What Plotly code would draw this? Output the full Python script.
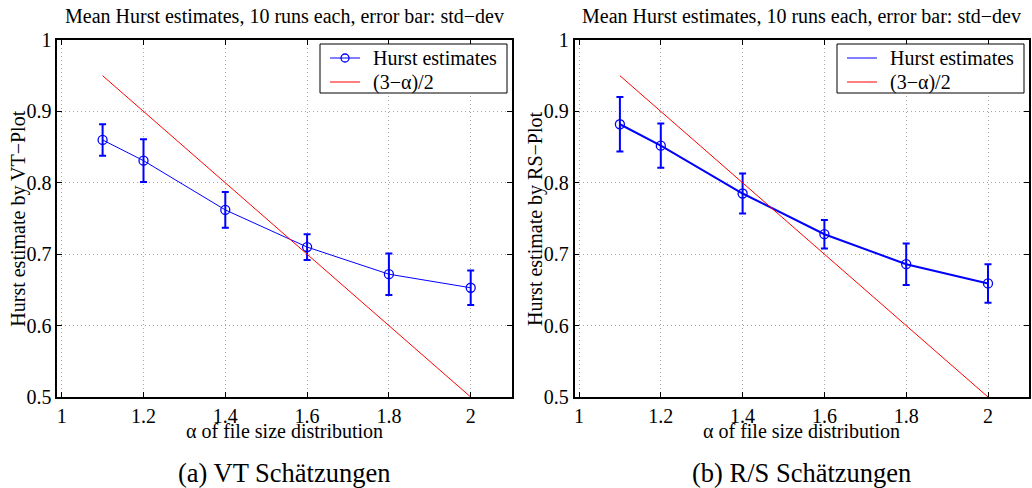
import plotly.graph_objects as go

# alpha values of the file size distribution
alpha = [1.1, 1.2, 1.4, 1.6, 1.8, 2.0]

# VT-plot estimates (mean of 10 runs) and standard deviation
vt_mean = [0.860, 0.831, 0.762, 0.710, 0.672, 0.653]
vt_std = [0.022, 0.030, 0.025, 0.018, 0.029, 0.024]

# R/S-plot estimates (mean of 10 runs) and standard deviation
rs_mean = [0.882, 0.852, 0.785, 0.728, 0.686, 0.659]
rs_std = [0.038, 0.031, 0.028, 0.020, 0.029, 0.027]

# theoretical relation H = (3 - alpha) / 2
theory_alpha = [1.1, 2.0]
theory_h = [(3 - a) / 2 for a in theory_alpha]

x_ticks = [1, 1.2, 1.4, 1.6, 1.8, 2]
x_tick_text = ["1", "1.2", "1.4", "1.6", "1.8", "2"]
y_ticks = [0.5, 0.6, 0.7, 0.8, 0.9, 1.0]
y_tick_text = ["0.5", "0.6", "0.7", "0.8", "0.9", "1"]

FONT = "Liberation Serif, Times New Roman, serif"
BLUE = "rgb(0,0,255)"
RED = "rgb(255,0,0)"

W, H = 1032, 488


def px(x):
    return x / W


def py(y):
    return (H - y) / H


panels = [
    dict(x0=57.2, x1=511.6, ylabel="Hurst estimate by VT\u2212Plot", caption="(a) VT Sch\u00e4tzungen",
         mean=vt_mean, std=vt_std, lw=1, legend_marker=True, lx=320),
    dict(x0=574.5, x1=1028.9, ylabel="Hurst estimate by RS\u2212Plot", caption="(b) R/S Sch\u00e4tzungen",
         mean=rs_mean, std=rs_std, lw=2, legend_marker=False, lx=837),
]
y_top, y_bot = 40, 397

fig = go.Figure()
annotations = []
shapes = []
layout = {}


def text(t, x, y, size, angle=0, xanchor="center"):
    return dict(text=t, x=px(x), y=py(y), xref="paper", yref="paper", showarrow=False,
                xanchor=xanchor, yanchor="middle", textangle=angle,
                font=dict(family=FONT, size=size, color="black"))


for i, p in enumerate(panels):
    n = "" if i == 0 else str(i + 1)
    xa, ya = "x" + n, "y" + n

    # measured estimates with error bars
    fig.add_trace(go.Scatter(
        x=alpha, y=p["mean"], xaxis=xa, yaxis=ya, mode="lines+markers",
        line=dict(color=BLUE, width=p["lw"]),
        marker=dict(symbol="circle-open", size=9, color=BLUE, line=dict(width=1.3)),
        error_y=dict(type="data", array=p["std"], visible=True, color=BLUE, thickness=2, width=3.5),
        name="Hurst estimates", showlegend=False,
    ))
    # theoretical line
    fig.add_trace(go.Scatter(
        x=theory_alpha, y=theory_h, xaxis=xa, yaxis=ya, mode="lines",
        line=dict(color=RED, width=1), name="(3\u2212\u03b1)/2", showlegend=False,
    ))

    axis_common = dict(
        showline=True, mirror="allticks", linecolor="black", linewidth=1.5,
        ticks="inside", ticklen=5, tickcolor="black", tickwidth=1,
        showgrid=True, gridcolor="rgb(165,165,165)", griddash="1px,3px", gridwidth=1,
        zeroline=False, automargin=False,
        tickfont=dict(family=FONT, size=20, color="black"),
    )
    layout["xaxis" + n] = dict(
        axis_common, domain=[px(p["x0"]), px(p["x1"])], range=[0.989, 2.1],
        tickvals=x_ticks, ticktext=x_tick_text, anchor=ya,
    )
    layout["yaxis" + n] = dict(
        axis_common, domain=[py(y_bot), py(y_top)], range=[0.5, 1.0],
        tickvals=y_ticks, ticktext=y_tick_text, anchor=xa,
    )

    xc = (p["x0"] + p["x1"]) / 2
    annotations += [
        text("Mean Hurst estimates, 10 runs each, error bar: std\u2212dev", xc, 16, 20),
        text("\u03b1 of file size distribution", xc, 431, 20),
        text(p["caption"], xc, 473, 26.5),
        text(p["ylabel"], p["x0"] - 39, (y_top + y_bot) / 2, 20, angle=-90),
    ]

    # legend box drawn in the upper right corner of each panel
    lx = p["lx"]
    shapes.append(dict(type="rect", xref="paper", yref="paper",
                       x0=px(lx), x1=px(lx + 187), y0=py(44), y1=py(93),
                       line=dict(color="black", width=1), fillcolor="white", layer="above"))
    shapes.append(dict(type="line", xref="paper", yref="paper",
                       x0=px(lx + 10), x1=px(lx + 40), y0=py(58), y1=py(58),
                       line=dict(color=BLUE, width=1), layer="above"))
    if p["legend_marker"]:
        shapes.append(dict(type="circle", xref="paper", yref="paper",
                           x0=px(lx + 21), x1=px(lx + 29), y0=py(62), y1=py(54),
                           line=dict(color=BLUE, width=1.3), layer="above"))
    shapes.append(dict(type="line", xref="paper", yref="paper",
                       x0=px(lx + 10), x1=px(lx + 40), y0=py(82), y1=py(82),
                       line=dict(color=RED, width=1), layer="above"))
    annotations += [
        text("Hurst estimates", lx + 51, 58, 20, xanchor="left"),
        text("(3\u2212\u03b1)/2", lx + 51, 82, 20, xanchor="left"),
    ]

fig.update_layout(
    width=W, height=H, margin=dict(l=0, r=0, t=0, b=0, autoexpand=False),
    paper_bgcolor="white", plot_bgcolor="white", showlegend=False,
    annotations=annotations, shapes=shapes, **layout,
)
fig.write_html("out.html")
